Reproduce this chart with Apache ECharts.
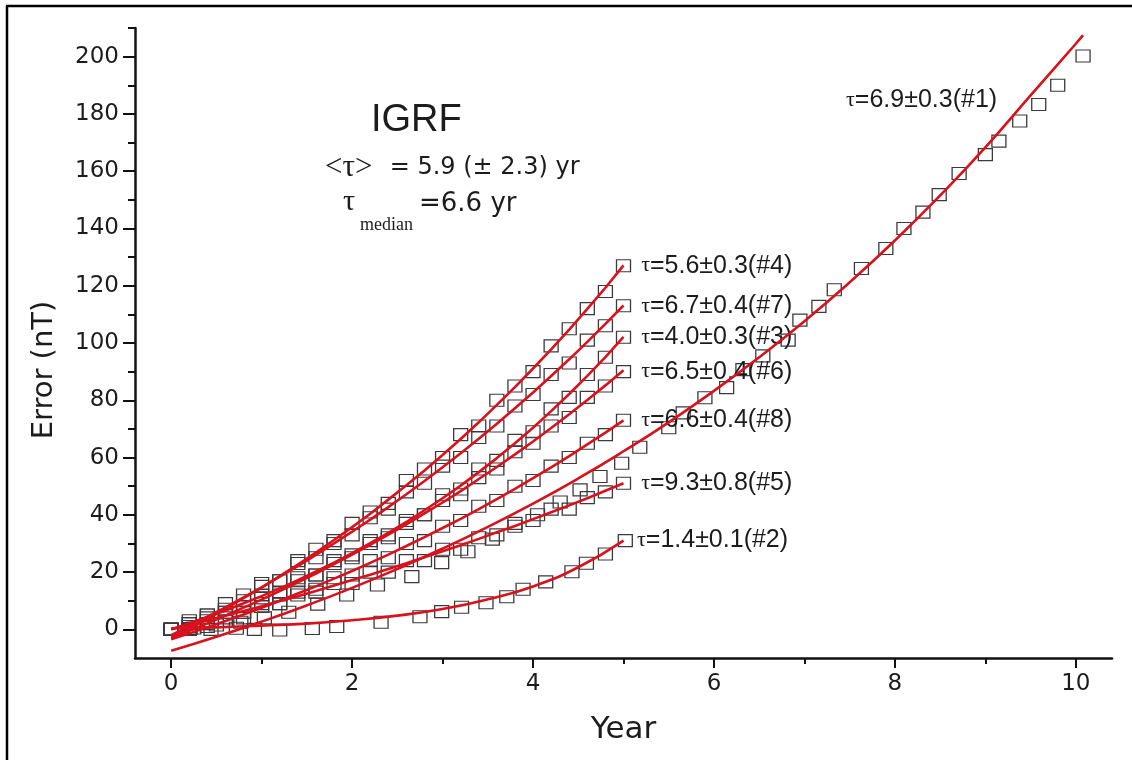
<!DOCTYPE html>
<html>
<head>
<meta charset="utf-8">
<script src="https://cdn.jsdelivr.net/npm/echarts@6/dist/echarts.min.js"></script>
<style>
html,body{margin:0;padding:0;background:#fff;}
#chart{width:1132px;height:760px;}
</style>
</head>
<body>
<div id="chart"></div>
<script>
// ---------- data ----------
const yearsShort = [0,0.2,0.4,0.6,0.8,1,1.2,1.4,1.6,1.8,2,2.2,2.4,2.6,2.8,3,3.2,3.4,3.6,3.8,4,4.2,4.4,4.6,4.8,5];

// #4 (tau 5.6)
const err4 = [0,2,5,6,12,15,17,24,28,30,37,41,44,52,56,60,68,71,80,85,90,99,105,112,118,127];
const fit4 = [-3.0,0.3,3.7,7.2,10.9,14.6,18.6,22.6,26.8,31.2,35.7,40.4,45.3,50.3,55.5,60.9,66.5,72.3,78.4,84.6,91.1,97.8,104.7,111.9,119.3,127.1];
// #7 (tau 6.7)
const err7 = [0,3,4,9,10,16,17,23,25,31,33,39,42,48,51,57,60,67,71,78,82,89,93,101,106,113];
const fit7 = [-2.0,1.1,4.4,7.7,11.2,14.7,18.4,22.1,26.0,30.0,34.1,38.3,42.7,47.2,51.8,56.6,61.5,66.6,71.8,77.2,82.7,88.5,94.3,100.4,106.7,113.1];
// #3 (tau 4.0)
const err3 = [0,1,5,7,8,12,13,18,19,24,26,31,33,38,40,47,49,56,59,66,69,77,81,89,95,102];
const fit3 = [0,2.1,4.3,6.6,9.1,11.6,14.3,17.2,20.2,23.3,26.6,30.1,33.7,37.5,41.6,45.8,50.2,54.9,59.8,65.0,70.4,76.2,82.2,88.5,95.1,102.1];
// #6 (tau 6.5)
const err6 = [0,1,2,4,6,11,12,17,19,23,25,30,32,37,40,45,47,53,56,62,65,71,74,81,85,90];
const fit6 = [-3.0,-0.5,2.1,4.8,7.6,10.4,13.4,16.4,19.5,22.8,26.1,29.5,33.1,36.7,40.5,44.3,48.3,52.5,56.7,61.1,65.6,70.3,75.1,80.1,85.2,90.5];
// #8 (tau 6.6)
const err8 = [0,0,1,3,4,8,9,13,14,18,19,24,25,30,31,36,38,43,45,50,52,57,60,65,68,73];
const fit8 = [-3.5,-1.4,0.7,2.9,5.2,7.5,10.0,12.5,15.0,17.7,20.4,23.2,26.1,29.1,32.2,35.4,38.6,42.0,45.5,49.1,52.8,56.6,60.5,64.6,68.7,73.0];
// #5 (tau 9.3)
const err5 = [0,2,3,6,6,9,9,12,13,16,16,20,20,24,24,28,28,32,33,37,38,42,42,46,48,51];
const fit5 = [0,1.6,3.1,4.8,6.4,8.1,9.9,11.6,13.4,15.3,17.2,19.1,21.1,23.1,25.2,27.3,29.4,31.6,33.9,36.1,38.5,40.9,43.3,45.8,48.4,51.0];
// #2 (tau 1.4)
const years2 = [0,0.21,0.44,0.72,0.92,1.2,1.56,1.83,2.32,2.75,2.99,3.21,3.48,3.71,3.89,4.14,4.43,4.59,4.8,5.02];
const err2 = [0,0.3,0,0.4,0,-0.2,0.3,1.0,2.5,4.4,6.2,7.7,9.3,11.4,14,16.6,20.1,23.1,26.3,31];
const fitYears2 = [0,0.5,1,1.5,2,2.5,3,3.5,4,4.5,5];
const fit2 = [0.4,0.7,1.3,2.0,3.2,4.8,7.1,10.5,15,21.7,31];
// #1 (tau 6.9), ten years
const years1 = [0,0.25,0.5,0.77,1.03,1.3,1.62,1.94,2.28,2.66,2.99,3.28,3.55,3.8,4.05,4.3,4.52,4.74,4.98,5.18,5.5,5.66,5.9,6.14,6.32,6.54,6.82,6.95,7.16,7.33,7.63,7.9,8.1,8.31,8.49,8.71,9.0,9.15,9.38,9.59,9.8,10.08];
const err1 = [0,0.5,1.5,2.5,4,6,8.8,12,15.5,18.4,23.3,27.1,31.5,36,40,44.5,48.7,53.4,58,63.6,70.4,75.6,80.9,84.4,90.7,95.5,101,108,112.8,118.6,126,133,140,145.7,151.8,159.2,165.8,170.5,177.5,183.3,190,200.2];
const fitYears1 = [0,0.5,1,1.5,2,2.5,3,3.5,4,4.5,5,5.5,6,6.5,7,7.5,8,8.5,9,9.5,10,10.08];
const fit1 = [-7.5,-2.6,2.7,8.4,14.5,21.1,28.2,35.8,43.9,52.7,62.2,72.3,83.3,95.0,107.6,121.2,135.8,151.5,168.3,186.5,204.5,207.5];

// tick labels
const yMajorTicks = [0,20,40,60,80,100,120,140,160,180,200];
const yMinorTicks = [10,30,50,70,90,110,130,150,170,190,210];
const xMajorTicks = [0,2,4,6,8,10];
const xMinorTicks = [1,3,5,7,9];

const tauLabels = {
  '#1':'6.9±0.3', '#2':'1.4±0.1', '#3':'4.0±0.3', '#4':'5.6±0.3',
  '#5':'9.3±0.8', '#6':'6.5±0.4', '#7':'6.7±0.4', '#8':'6.6±0.4'
};

// ---------- building the chart ----------
const zip = (xs, ys) => xs.map((x, i) => [x, ys[i]]);
const RED = '#d8111d';
const INK = '#1c1c1c';
const richLbl = {
  t: {fontFamily: 'Liberation Serif', fontSize: 22, color: INK},
  v: {fontFamily: 'Liberation Sans', fontSize: 25, color: INK}
};

const shortSets = [
  {id:'#4', xs: yearsShort, ys: err4, fx: yearsShort, fy: fit4},
  {id:'#7', xs: yearsShort, ys: err7, fx: yearsShort, fy: fit7},
  {id:'#3', xs: yearsShort, ys: err3, fx: yearsShort, fy: fit3},
  {id:'#6', xs: yearsShort, ys: err6, fx: yearsShort, fy: fit6},
  {id:'#8', xs: yearsShort, ys: err8, fx: yearsShort, fy: fit8},
  {id:'#5', xs: yearsShort, ys: err5, fx: yearsShort, fy: fit5},
  {id:'#2', xs: years2, ys: err2, fx: fitYears2, fy: fit2}
];

const scatterBase = {
  type: 'scatter', symbol: 'rect', symbolSize: [14, 12], z: 2,
  itemStyle: {color: 'rgba(0,0,0,0)', borderColor: '#3a3a3a', borderWidth: 1.2, opacity: 1},
  silent: true
};
const series = [];
series.push(Object.assign({}, scatterBase, {name: 'data #1', data: zip(years1, err1)}));
shortSets.forEach(s => {
  const d = zip(s.xs, s.ys);
  const last = d.length - 1;
  d[last] = {
    value: d[last],
    label: {
      show: true, position: 'right', distance: s.id === '#2' ? 4 : 10,
      formatter: '{t|τ}{v|=' + tauLabels[s.id] + '(' + s.id + ')}',
      rich: richLbl
    }
  };
  series.push(Object.assign({}, scatterBase, {name: 'data ' + s.id, data: d}));
});
series.push({type: 'line', name: 'fit #1', data: zip(fitYears1, fit1), showSymbol: false, smooth: true, z: 3,
  lineStyle: {color: RED, width: 2.6}, silent: true});
shortSets.forEach(s => {
  series.push({type: 'line', name: 'fit ' + s.id, data: zip(s.fx, s.fy), showSymbol: false,
    smooth: s.id === '#2', z: 3, lineStyle: {color: RED, width: 2.6}, silent: true});
});

const axisFont = {fontFamily: 'DejaVu Sans', fontSize: 23, color: INK};

const option = {
  animation: false,
  backgroundColor: '#ffffff',
  grid: {left: 135, right: 20, top: 28, bottom: 102, containLabel: false},
  xAxis: [
    {
      type: 'value', min: -0.4, max: 10.4,
      name: 'Year', nameLocation: 'middle', nameGap: 56,
      nameTextStyle: {fontFamily: 'DejaVu Sans', fontSize: 31, color: INK},
      axisLine: {show: true, onZero: false, lineStyle: {color: '#111', width: 2.5}},
      axisTick: {show: true, inside: false, length: 10, lineStyle: {color: '#111', width: 2}, customValues: xMajorTicks},
      axisLabel: Object.assign({customValues: xMajorTicks, margin: 15}, axisFont),
      splitLine: {show: false}
    },
    {
      type: 'value', min: -0.4, max: 10.4, position: 'bottom', offset: 0,
      axisLine: {show: false, onZero: false},
      axisTick: {show: true, inside: false, length: 6, lineStyle: {color: '#111', width: 2}, customValues: xMinorTicks},
      axisLabel: {show: false},
      splitLine: {show: false}
    }
  ],
  yAxis: [
    {
      type: 'value', min: -10, max: 210,
      name: 'Error (nT)', nameLocation: 'middle', nameGap: 76,
      nameTextStyle: {fontFamily: 'DejaVu Sans', fontSize: 29, color: INK, padding: [0, 54, 0, 0]},
      axisLine: {show: true, onZero: false, lineStyle: {color: '#111', width: 2.5}},
      axisTick: {show: true, inside: false, length: 12, lineStyle: {color: '#111', width: 2}, customValues: yMajorTicks},
      axisLabel: Object.assign({customValues: yMajorTicks, margin: 16}, axisFont),
      splitLine: {show: false}
    },
    {
      type: 'value', min: -10, max: 210, position: 'left', offset: 0,
      axisLine: {show: false, onZero: false},
      axisTick: {show: true, inside: false, length: 7, lineStyle: {color: '#111', width: 2}, customValues: yMinorTicks},
      axisLabel: {show: false},
      splitLine: {show: false}
    }
  ],
  graphic: [
    {type: 'line', shape: {x1: 7, y1: 6, x2: 7, y2: 760}, style: {stroke: '#000', lineWidth: 2.5}, silent: true},
    {type: 'line', shape: {x1: 6, y1: 6, x2: 1132, y2: 6}, style: {stroke: '#000', lineWidth: 2.5}, silent: true},
    {type: 'text', x: 371, y: 121, silent: true,
      style: {text: 'IGRF', fontFamily: 'Liberation Sans', fontSize: 38, fill: INK, align: 'left', verticalAlign: 'middle'}},
    {type: 'text', x: 325, y: 168, silent: true,
      style: {
        text: '{s|<τ>}{m|  = 5.9 (± 2.3) yr}', align: 'left', verticalAlign: 'middle',
        rich: {
          s: {fontFamily: 'Liberation Serif', fontSize: 31, fill: INK, padding: [0, 2, 0, 0]},
          m: {fontFamily: 'DejaVu Sans', fontSize: 24, fill: INK}
        }
      }},
    {type: 'text', x: 343, y: 202, silent: true,
      style: {text: 'τ', fontFamily: 'Liberation Serif', fontSize: 30, fill: INK, align: 'left', verticalAlign: 'middle'}},
    {type: 'text', x: 360, y: 225, silent: true,
      style: {text: 'median', fontFamily: 'Liberation Serif', fontSize: 18, fill: INK, align: 'left', verticalAlign: 'middle'}},
    {type: 'text', x: 419, y: 204, silent: true,
      style: {text: '=6.6 yr', fontFamily: 'DejaVu Sans', fontSize: 26, fill: INK, align: 'left', verticalAlign: 'middle'}},
    {type: 'text', x: 846, y: 100, silent: true,
      style: {
        text: '{t|τ}{v|=' + tauLabels['#1'] + '(#1)}', align: 'left', verticalAlign: 'middle',
        rich: {
          t: {fontFamily: 'Liberation Serif', fontSize: 22, fill: INK},
          v: {fontFamily: 'Liberation Sans', fontSize: 25, fill: INK}
        }
      }}
  ],
  series: series
};

const chart = echarts.init(document.getElementById('chart'), null, {renderer: 'canvas'});
chart.setOption(option);
</script>
</body>
</html>
